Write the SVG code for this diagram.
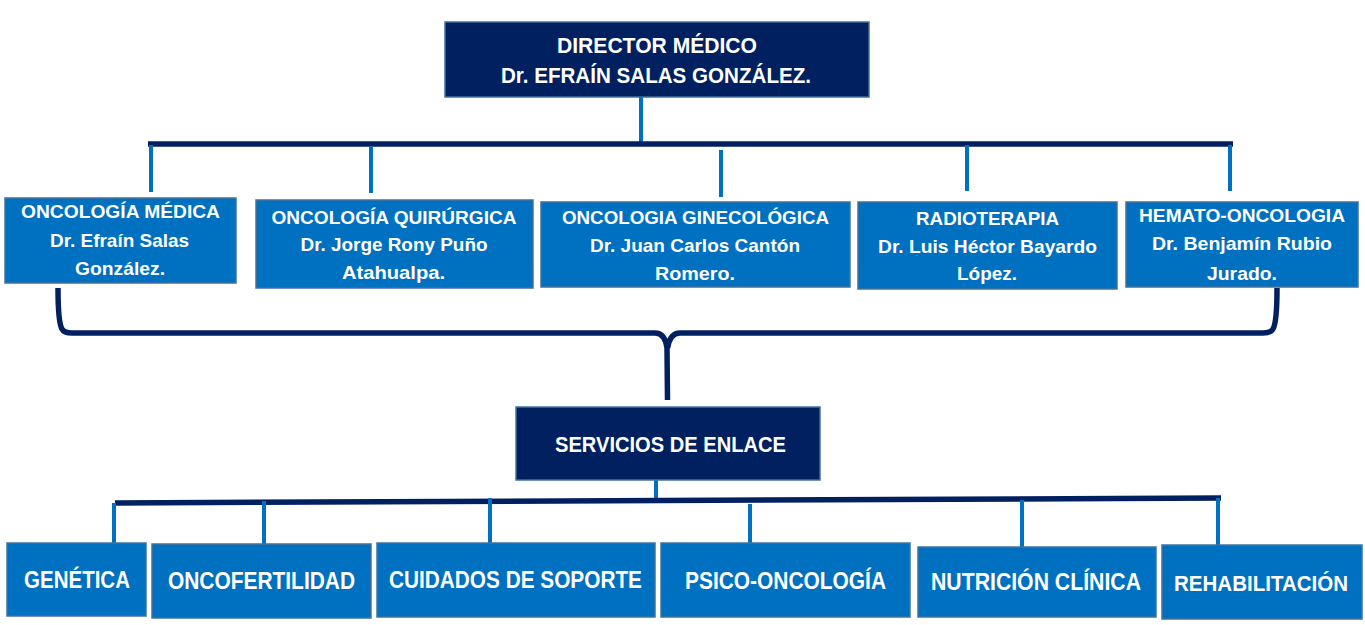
<svg xmlns="http://www.w3.org/2000/svg" width="1365" height="625" viewBox="0 0 1365 625">
<style>
.dark{fill:#002060;stroke:#41719C;stroke-width:1.5}
.lite{fill:#0070C0;stroke:#41719C;stroke-width:1.5}
text{font-family:"Liberation Sans",Arial,sans-serif;font-weight:bold;fill:#ffffff;text-anchor:middle}
.t1{font-size:22px}
.t2{font-size:18.5px}
.t3{font-size:23px}
.bar{stroke:#002060;stroke-width:5.5;fill:none}
.drop{stroke:#0070C0;stroke-width:4;fill:none}
</style>
<rect width="1365" height="625" fill="#ffffff"/>
<g id="connectors">
<line class="drop" x1="641" y1="97" x2="641" y2="142"/>
<line class="bar" x1="148" y1="144" x2="1233" y2="144"/>
<line class="drop" x1="151" y1="145" x2="151" y2="192"/>
<line class="drop" x1="371" y1="146" x2="371" y2="193"/>
<line class="drop" x1="721" y1="150" x2="721" y2="197"/>
<line class="drop" x1="967" y1="145" x2="967" y2="191"/>
<line class="drop" x1="1230" y1="145" x2="1230" y2="191"/>
<path class="bar" stroke-linejoin="round" d="M58 288 C58 310 59 324 62 329 Q64 333 72 333 L655 333 Q665 333 667 348 L667.5 400 M667.5 348 Q670 333 680 333 L1263 333 Q1271 333 1273 329 C1276 324 1277 310 1277 288"/>
<line class="drop" x1="656" y1="480" x2="656" y2="499"/>
<line class="bar" x1="115" y1="503" x2="1221" y2="498"/>
<line class="drop" x1="114" y1="503" x2="114" y2="543"/>
<line class="drop" x1="264" y1="501" x2="264" y2="544"/>
<line class="drop" x1="490" y1="498" x2="490" y2="543"/>
<line class="drop" x1="750" y1="504" x2="750" y2="543"/>
<line class="drop" x1="1022" y1="500" x2="1022" y2="547"/>
<line class="drop" x1="1218" y1="498" x2="1218" y2="545"/>
</g>
<g id="director">
<rect class="dark" x="445" y="22" width="424" height="75"/>
<text class="t1" x="657" y="53" textLength="200" lengthAdjust="spacingAndGlyphs">DIRECTOR MÉDICO</text>
<text class="t1" x="656" y="82.5" textLength="310" lengthAdjust="spacingAndGlyphs">Dr. EFRAÍN SALAS GONZÁLEZ.</text>
</g>
<g id="onc-medica">
<rect class="lite" x="5" y="198" width="231" height="85"/>
<text class="t2" x="120.5" y="218" textLength="199" lengthAdjust="spacingAndGlyphs">ONCOLOGÍA MÉDICA</text>
<text class="t2" x="119.5" y="246.5" textLength="139" lengthAdjust="spacingAndGlyphs">Dr. Efraín Salas</text>
<text class="t2" x="120" y="275" textLength="90" lengthAdjust="spacingAndGlyphs">González.</text>
</g>
<g id="onc-quirurgica">
<rect class="lite" x="256" y="200" width="277" height="88"/>
<text class="t2" x="394" y="223.5" textLength="245" lengthAdjust="spacingAndGlyphs">ONCOLOGÍA QUIRÚRGICA</text>
<text class="t2" x="394" y="251" textLength="187" lengthAdjust="spacingAndGlyphs">Dr. Jorge Rony Puño</text>
<text class="t2" x="393.5" y="278.5" textLength="103" lengthAdjust="spacingAndGlyphs">Atahualpa.</text>
</g>
<g id="onc-ginecologica">
<rect class="lite" x="541" y="202" width="309" height="85"/>
<text class="t2" x="695.5" y="224" textLength="267" lengthAdjust="spacingAndGlyphs">ONCOLOGIA GINECOLÓGICA</text>
<text class="t2" x="695" y="251.5" textLength="210" lengthAdjust="spacingAndGlyphs">Dr. Juan Carlos Cantón</text>
<text class="t2" x="695" y="279.5" textLength="80" lengthAdjust="spacingAndGlyphs">Romero.</text>
</g>
<g id="radioterapia">
<rect class="lite" x="858" y="202" width="259" height="87"/>
<text class="t2" x="987.5" y="225" textLength="143" lengthAdjust="spacingAndGlyphs">RADIOTERAPIA</text>
<text class="t2" x="987.5" y="252.5" textLength="219" lengthAdjust="spacingAndGlyphs">Dr. Luis Héctor Bayardo</text>
<text class="t2" x="987" y="280" textLength="60" lengthAdjust="spacingAndGlyphs">López.</text>
</g>
<g id="hemato">
<rect class="lite" x="1126" y="202" width="232" height="85"/>
<text class="t2" x="1242" y="221.5" textLength="206" lengthAdjust="spacingAndGlyphs">HEMATO-ONCOLOGIA</text>
<text class="t2" x="1242" y="249.5" textLength="180" lengthAdjust="spacingAndGlyphs">Dr. Benjamín Rubio</text>
<text class="t2" x="1242" y="279.5" textLength="70" lengthAdjust="spacingAndGlyphs">Jurado.</text>
</g>
<g id="servicios">
<rect class="dark" x="516" y="407" width="304" height="73"/>
<text class="t1" x="670.5" y="451.5" textLength="231" lengthAdjust="spacingAndGlyphs">SERVICIOS DE ENLACE</text>
</g>
<g id="genetica">
<rect class="lite" x="7" y="543" width="139" height="73"/>
<text class="t3" x="77" y="588.3" textLength="106" lengthAdjust="spacingAndGlyphs">GENÉTICA</text>
</g>
<g id="oncofertilidad">
<rect class="lite" x="152" y="544" width="219" height="74"/>
<text class="t3" x="261.5" y="589" textLength="187" lengthAdjust="spacingAndGlyphs">ONCOFERTILIDAD</text>
</g>
<g id="cuidados">
<rect class="lite" x="377" y="543" width="278" height="74"/>
<text class="t3" x="515.5" y="588.3" textLength="253" lengthAdjust="spacingAndGlyphs">CUIDADOS DE SOPORTE</text>
</g>
<g id="psico">
<rect class="lite" x="661" y="543" width="249" height="74"/>
<text class="t3" x="785.5" y="589.3" textLength="201" lengthAdjust="spacingAndGlyphs">PSICO-ONCOLOGÍA</text>
</g>
<g id="nutricion">
<rect class="lite" x="918" y="547" width="238" height="70"/>
<text class="t3" x="1036" y="590" textLength="210" lengthAdjust="spacingAndGlyphs">NUTRICIÓN CLÍNICA</text>
</g>
<g id="rehabilitacion">
<rect class="lite" x="1162" y="545" width="200" height="74"/>
<text x="1261" y="591" font-size="21.5" textLength="174" lengthAdjust="spacingAndGlyphs">REHABILITACIÓN</text>
</g>
</svg>
